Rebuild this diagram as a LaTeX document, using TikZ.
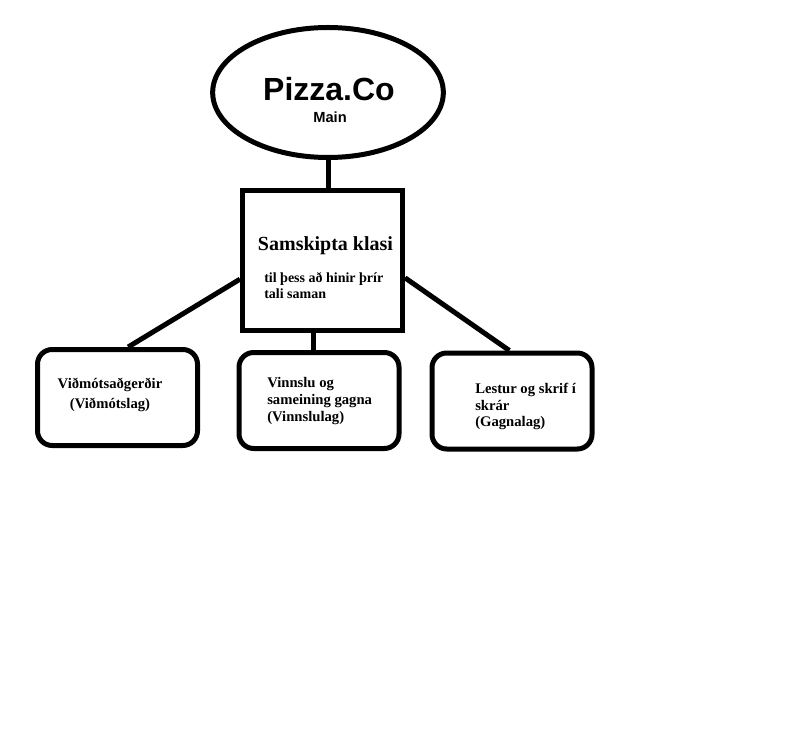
\documentclass[tikz,border=0pt]{standalone}
\usepackage{fontspec}
\setmainfont{Liberation Serif}
\newfontfamily\arialFont{Liberation Sans}
\usetikzlibrary{positioning,shapes.geometric}
\tikzstyle{thickStroke} = [draw, line width=3.75pt]
\tikzstyle{mainStyle} = [thickStroke, ellipse, inner sep=0, minimum width=173pt, minimum height=97.5pt]
\tikzstyle{classStyle} = [thickStroke, rectangle, inner sep=0, minimum width=120pt, minimum height=105pt]
\tikzstyle{layerStyle} = [thickStroke, rectangle, rounded corners=11pt, inner sep=0, minimum width=120pt, minimum height=72pt]
\tikzstyle{connector} = [line width=3.75pt]
\tikzstyle{layerText} = [inner sep=0, align=left, anchor=north west]
\newcommand{\layerFont}[1]{\bfseries\fontsize{11}{#1}\selectfont}

\begin{document}
\begin{tikzpicture}[x=0.75pt, y=-0.75pt]
  \useasboundingbox (0,0) rectangle (788,734);
  % shapes
  \node [mainStyle] (main) at (328,92.5) {};
  \node [classStyle] (samskipti) at (322.5,260.5) {};
  \node [layerStyle] (vidmot) at (117.5,397.5) {};
  \node [layerStyle] (vinnsla) at (319,400.5) {};
  \node [layerStyle] (gogn) at (512,401) {};

  % texts
  \node [inner sep=0, anchor=base, font=\arialFont\bfseries\fontsize{24}{28}\selectfont] (mainTitle) at (329,101) {Pizza.Co};
  \node [inner sep=0, anchor=base, font=\arialFont\bfseries\fontsize{11}{13}\selectfont] (mainLabel) at (330,122.3) {Main};
  \node [inner sep=0, anchor=base, font=\bfseries\fontsize{15}{18}\selectfont] (classTitle) at (325.5,251) {Samskipta klasi};
  \node [layerText, font=\bfseries\fontsize{10.5}{12}\selectfont] (classText) at (264,272) {til þess að hinir þrír\\tali saman};
  \node [inner sep=0, align=center, anchor=north, font=\layerFont{15}] (vidmotText) at (110,378) {Viðmótsaðgerðir\\(Viðmótslag)};
  \node [layerText, font=\layerFont{12.75}] (vinnslaText) at (267,377) {Vinnslu og\\sameining gagna\\(Vinnslulag)};
  \node [layerText, font=\layerFont{12.4}] (gognText) at (475,383) {Lestur og skrif í\\skrár\\(Gagnalag)};

  % connectors
  \draw [connector] (main.south) -- (main.south |- samskipti.north);
  \draw [connector] ([yshift=-14pt]samskipti.west) -- ([xshift=8pt]vidmot.north);
  \draw [connector] ([yshift=-13pt]samskipti.east) -- ([xshift=-2pt]gogn.north);
  \draw [connector] ([xshift=-7pt]samskipti.south) -- ([xshift=-7pt]samskipti.south |- vinnsla.north);
\end{tikzpicture}
\end{document}
